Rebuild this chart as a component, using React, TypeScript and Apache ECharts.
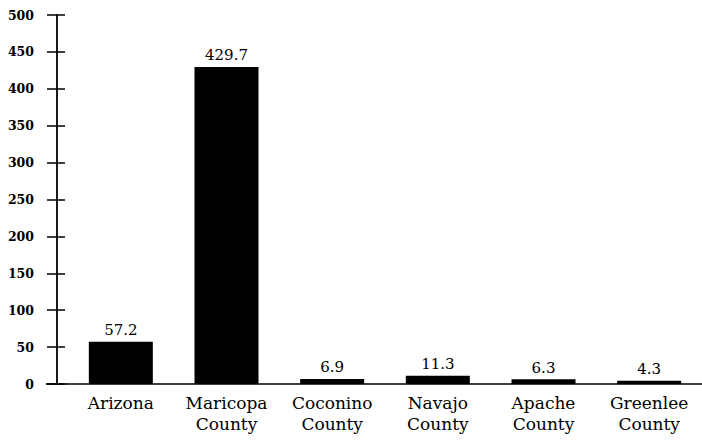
import React, { useEffect, useRef } from "react";
import * as echarts from "echarts";

const categories = [
  "Arizona",
  "Maricopa\nCounty",
  "Coconino\nCounty",
  "Navajo\nCounty",
  "Apache\nCounty",
  "Greenlee\nCounty",
];
const values = [57.2, 429.7, 6.9, 11.3, 6.3, 4.3];
const yMin = 0;
const yMax = 500;
const yInterval = 50;

const FONT = "DejaVu Serif";

export default function App() {
  const ref = useRef<HTMLDivElement>(null);

  useEffect(() => {
    if (!ref.current) return;
    const chart = echarts.init(ref.current, undefined, { renderer: "svg" });
    const gridLeft = 68;
    const gridBottom = 58;
    const H = 442;
    chart.setOption({
      animation: false,
      backgroundColor: "#ffffff",
      textStyle: { fontFamily: FONT },
      grid: { left: gridLeft, right: -6, top: 15, bottom: gridBottom },
      xAxis: {
        type: "category",
        data: categories,
        boundaryGap: true,
        axisLine: { show: true, lineStyle: { color: "#000", width: 1.6 } },
        axisTick: { show: false },
        axisLabel: {
          color: "#000",
          fontFamily: FONT,
          fontSize: 17,
          lineHeight: 21,
          margin: 8,
          interval: 0,
        },
        splitLine: { show: false },
      },
      yAxis: [
        {
          type: "value",
          position: "left",
          offset: 11,
          min: yMin,
          max: yMax,
          interval: yInterval,
          axisLine: { show: true, lineStyle: { color: "#000", width: 1.8 } },
          axisTick: { show: true, inside: false, length: 10, lineStyle: { color: "#000", width: 1.5 } },
          axisLabel: { color: "#000", fontFamily: FONT, fontSize: 12.5, fontWeight: "bold", margin: 23 },
          splitLine: { show: false },
        },
        {
          type: "value",
          position: "left",
          offset: 11,
          min: yMin,
          max: yMax,
          interval: yInterval,
          axisLine: { show: false },
          axisTick: { show: true, inside: true, length: 8, lineStyle: { color: "#000", width: 1.5 } },
          axisLabel: { show: false },
          splitLine: { show: false },
        },
      ],
      graphic: [
        {
          type: "line",
          shape: { x1: 46, y1: H - gridBottom, x2: gridLeft, y2: H - gridBottom },
          style: { stroke: "#000", lineWidth: 1.6 },
        },
      ],
      series: [
        {
          type: "bar",
          data: values,
          barWidth: 64,
          itemStyle: { color: "#000" },
          label: {
            show: true,
            position: "top",
            distance: 4,
            color: "#000",
            fontFamily: FONT,
            fontSize: 15,
            formatter: (p: any) => p.value.toFixed(1),
          },
        },
      ],
    });
    return () => chart.dispose();
  }, []);

  return (
    <div
      ref={ref}
      style={{ position: "absolute", left: 0, top: 0, width: 702, height: 442 }}
    />
  );
}
